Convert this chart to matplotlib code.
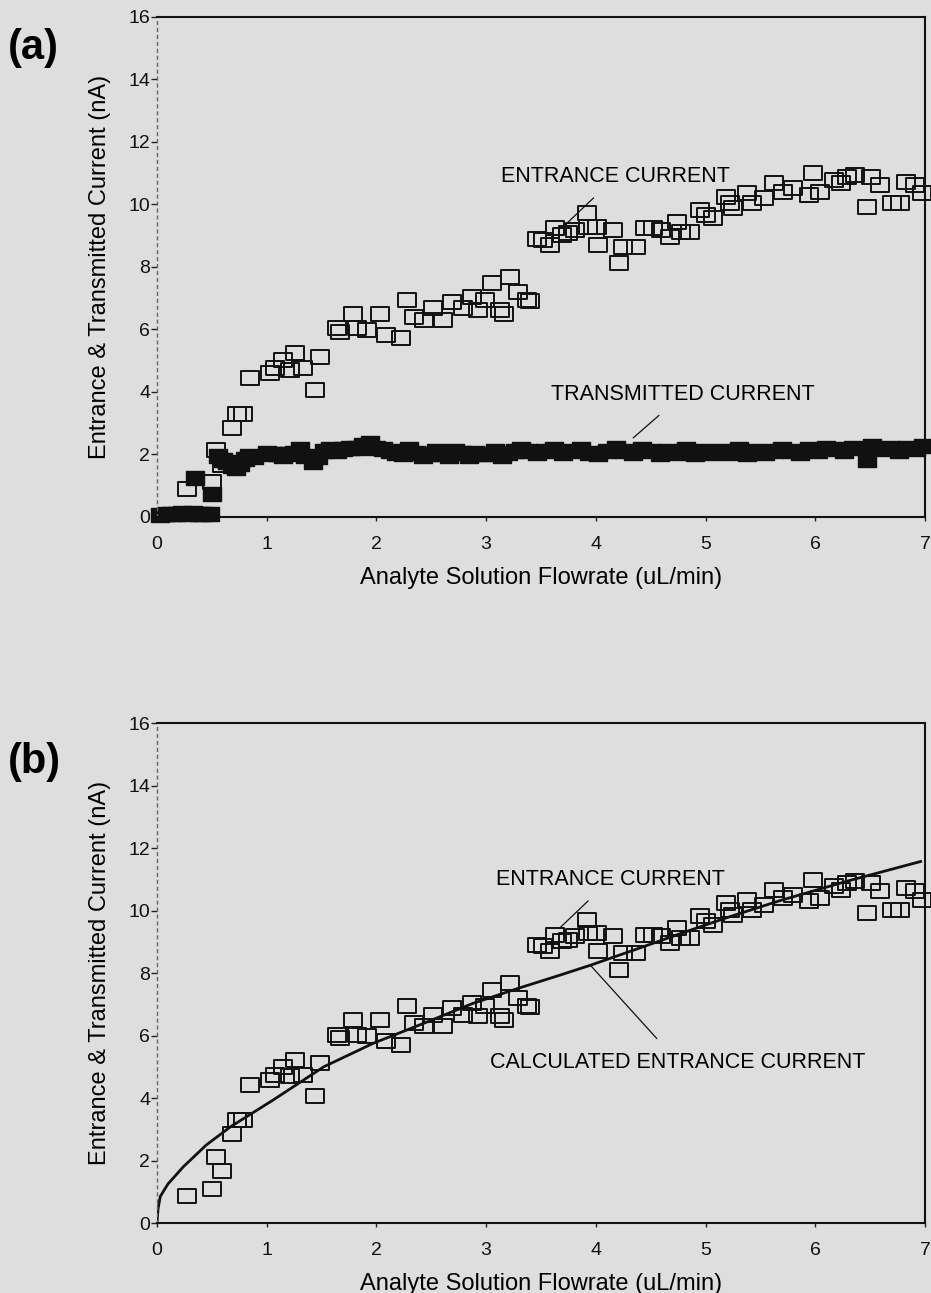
import matplotlib
matplotlib.use('Agg')
import matplotlib.pyplot as plt
from matplotlib.path import Path

plt.rcParams['font.family'] = ['Liberation Sans', 'DejaVu Sans']

# Entrance current (open squares), flowrate uL/min vs nA
ent_x = [0.27, 0.50, 0.54, 0.59, 0.68, 0.73, 0.78, 0.85, 1.03, 1.08, 1.15, 1.21,
         1.26, 1.33, 1.44, 1.49, 1.64, 1.67, 1.79, 1.82, 1.91, 2.03, 2.09, 2.22,
         2.28, 2.34, 2.43, 2.52, 2.61, 2.69, 2.79, 2.87, 2.93, 2.99, 3.05, 3.13,
         3.16, 3.22, 3.29, 3.37, 3.40, 3.46, 3.52, 3.58, 3.63, 3.69, 3.75, 3.81,
         3.92, 3.93, 4.01, 4.02, 4.16, 4.21, 4.25, 4.37, 4.45, 4.52, 4.59, 4.68,
         4.74, 4.78, 4.86, 4.95, 5.00, 5.07, 5.19, 5.22, 5.25, 5.38, 5.42, 5.53,
         5.62, 5.71, 5.80, 5.94, 5.98, 6.04, 6.17, 6.23, 6.29, 6.36, 6.47, 6.51,
         6.59, 6.70, 6.77, 6.83, 6.91, 6.97]
ent_y = [0.88, 1.10, 2.12, 1.65, 2.85, 3.30, 3.30, 4.43, 4.59, 4.75, 5.00, 4.70,
         5.23, 4.75, 4.05, 5.12, 6.03, 5.92, 6.50, 6.03, 5.97, 6.50, 5.81, 5.71,
         6.93, 6.40, 6.29, 6.67, 6.29, 6.88, 6.67, 7.04, 6.61, 6.93, 7.47, 6.61,
         6.50, 7.68, 7.20, 6.93, 6.90, 8.90, 8.85, 8.69, 9.23, 9.01, 9.07, 9.17,
         9.71, 9.28, 9.28, 8.69, 9.17, 8.11, 8.64, 8.64, 9.23, 9.23, 9.17, 8.96,
         9.44, 9.12, 9.12, 9.81, 9.65, 9.55, 10.24, 10.03, 9.87, 10.35, 10.03, 10.19,
         10.67, 10.40, 10.51, 10.29, 10.99, 10.40, 10.77, 10.67, 10.88, 10.93, 9.92, 10.88,
         10.61, 10.03, 10.03, 10.72, 10.61, 10.35]

# Transmitted current (filled squares)
tr_x = [0.03, 0.08, 0.13, 0.18, 0.23, 0.28, 0.33, 0.35, 0.38, 0.43, 0.48, 0.50,
        0.56, 0.60, 0.64, 0.68, 0.72, 0.76, 0.80, 0.84, 0.88, 1.00, 1.05, 1.10,
        1.15, 1.20, 1.25, 1.30, 1.35, 1.42, 1.47, 1.52, 1.58, 1.64, 1.70, 1.76,
        1.82, 1.88, 1.94, 2.00, 2.06, 2.12, 2.18, 2.24, 2.30, 2.36, 2.42, 2.48,
        2.54, 2.60, 2.66, 2.72, 2.78, 2.84, 2.90, 2.96, 3.02, 3.08, 3.14, 3.20,
        3.26, 3.32, 3.38, 3.46, 3.54, 3.62, 3.70, 3.78, 3.86, 3.94, 4.02, 4.10,
        4.18, 4.26, 4.34, 4.42, 4.50, 4.58, 4.66, 4.74, 4.82, 4.90, 4.98, 5.06,
        5.14, 5.22, 5.30, 5.38, 5.46, 5.54, 5.62, 5.70, 5.78, 5.86, 5.94, 6.02,
        6.10, 6.18, 6.26, 6.34, 6.47, 6.52, 6.60, 6.68, 6.76, 6.84, 6.92, 6.98]
tr_y = [0.05, 0.08, 0.10, 0.08, 0.12, 0.10, 0.12, 1.23, 0.10, 0.08, 0.10, 0.72,
        1.95, 1.80, 1.75, 1.62, 1.55, 1.70, 1.85, 1.95, 1.90, 2.05, 2.00, 2.02,
        1.95, 2.00, 2.05, 2.15, 1.95, 1.75, 1.90, 2.10, 2.15, 2.10, 2.15, 2.20,
        2.20, 2.30, 2.35, 2.20, 2.15, 2.10, 2.05, 2.00, 2.15, 2.05, 1.95, 2.00,
        2.10, 2.00, 1.95, 2.10, 2.05, 1.95, 2.05, 2.00, 2.00, 2.10, 1.95, 2.05,
        2.10, 2.15, 2.10, 2.05, 2.10, 2.15, 2.05, 2.10, 2.15, 2.05, 2.00, 2.10,
        2.20, 2.10, 2.05, 2.15, 2.10, 2.00, 2.10, 2.05, 2.15, 2.00, 2.10, 2.05,
        2.10, 2.05, 2.15, 2.00, 2.10, 2.05, 2.10, 2.15, 2.10, 2.05, 2.15, 2.10,
        2.20, 2.15, 2.10, 2.20, 1.80, 2.25, 2.15, 2.20, 2.10, 2.20, 2.15, 2.25]

# Calculated entrance current curve
calc_x = [0.0, 0.01, 0.03, 0.10, 0.24, 0.45, 0.67, 1.06, 1.52, 1.97, 2.43,
          2.88, 3.30, 3.67, 3.95, 4.35, 4.77, 5.20, 5.68, 6.30, 6.96]
calc_y = [0.0, 0.45, 0.85, 1.25, 1.80, 2.50, 3.08, 3.94, 5.00, 5.75, 6.39,
          7.03, 7.52, 7.93, 8.25, 8.74, 9.26, 9.78, 10.32, 10.95, 11.57]

bg = '#dedede'
box = Path([(-1.3, -1), (1.3, -1), (1.3, 1), (-1.3, 1), (-1.3, -1)],
           [Path.MOVETO, Path.LINETO, Path.LINETO, Path.LINETO, Path.CLOSEPOLY])

fig = plt.figure(figsize=(9.31, 12.93), dpi=100, facecolor=bg)
ax_a = fig.add_axes([0.1686, 0.6004, 0.825, 0.3867])
ax_b = fig.add_axes([0.1686, 0.0541, 0.825, 0.3867])


def style_axes(ax):
    ax.set_facecolor(bg)
    ax.set_xlim(0, 7)
    ax.set_ylim(0, 16)
    ax.set_xticks(range(8))
    ax.set_yticks(range(0, 17, 2))
    ax.tick_params(axis='y', direction='out', length=4, width=1,
                   labelsize=14, color='#222222', labelcolor='#111111', pad=1)
    ax.tick_params(axis='x', direction='out', length=3, width=1,
                   labelsize=14, color='#222222', labelcolor='#111111', pad=11)
    ax.spines['left'].set_linestyle((0, (2, 3)))
    ax.spines['left'].set_color('#666666')
    ax.spines['left'].set_linewidth(1)
    for s in ['top', 'right', 'bottom']:
        ax.spines[s].set_color('#111111')
        ax.spines[s].set_linewidth(1.5)
    ax.set_ylabel('Entrance & Transmitted Current (nA)', fontsize=17, labelpad=12)
    ax.set_xlabel('Analyte Solution Flowrate (uL/min)', fontsize=17, labelpad=10)


# Panel (a)
style_axes(ax_a)
ax_a.plot(ent_x, ent_y, linestyle='none', marker=box, markersize=12.5,
          markerfacecolor='none', markeredgecolor='#111111', markeredgewidth=1.4,
          clip_on=False)
ax_a.plot(tr_x, tr_y, linestyle='none', marker=box, markersize=12.5,
          markerfacecolor='#111111', markeredgecolor='#111111', clip_on=False)
ax_a.annotate('ENTRANCE CURRENT', xy=(3.70, 9.27), xytext=(4.18, 10.87),
              fontsize=15.5, ha='center', va='center',
              arrowprops=dict(arrowstyle='-', color='#111111', lw=0.9,
                              shrinkA=8, shrinkB=0))
ax_a.annotate('TRANSMITTED CURRENT', xy=(4.34, 2.52), xytext=(4.79, 3.90),
              fontsize=15.5, ha='center', va='center',
              arrowprops=dict(arrowstyle='-', color='#111111', lw=0.9,
                              shrinkA=8, shrinkB=0))
fig.text(0.008, 0.963, '(a)', fontsize=30, fontweight='bold', ha='left', va='center')

# Panel (b)
style_axes(ax_b)
ax_b.plot(ent_x, ent_y, linestyle='none', marker=box, markersize=12.5,
          markerfacecolor='none', markeredgecolor='#111111', markeredgewidth=1.4,
          clip_on=False)
ax_b.plot(calc_x, calc_y, color='#111111', lw=2)
ax_b.annotate('ENTRANCE CURRENT', xy=(3.67, 9.44), xytext=(4.13, 10.98),
              fontsize=15.5, ha='center', va='center',
              arrowprops=dict(arrowstyle='-', color='#111111', lw=0.9,
                              shrinkA=8, shrinkB=0))
ax_b.annotate('CALCULATED ENTRANCE CURRENT', xy=(3.95, 8.25), xytext=(4.75, 5.15),
              fontsize=15.5, ha='center', va='center',
              arrowprops=dict(arrowstyle='-', color='#111111', lw=0.9,
                              shrinkA=10, shrinkB=0))
fig.text(0.008, 0.411, '(b)', fontsize=30, fontweight='bold', ha='left', va='center')

fig.savefig('out.png', dpi=100, facecolor=bg)
